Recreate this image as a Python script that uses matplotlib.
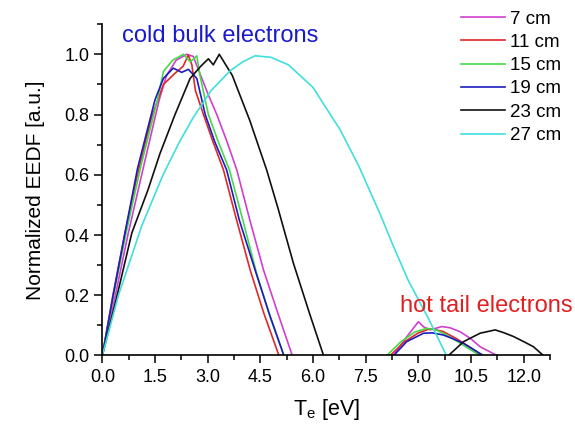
import numpy as np
import matplotlib
matplotlib.use('Agg')
import matplotlib.pyplot as plt
from matplotlib.ticker import MultipleLocator

plt.rcParams['font.family'] = ['Liberation Sans', 'DejaVu Sans']

labels = ['7 cm', '11 cm', '15 cm', '19 cm', '23 cm', '27 cm']
colors = ['#d040d0', '#e02828', '#48d848', '#1c1cc0', '#101010', '#40dede']

# cold bulk part of each EEDF
bulk_x = [
    [0, 0.3, 0.74, 1.2, 1.62, 1.83, 2.1, 2.4, 2.59, 2.8, 3.02, 3.26, 3.55, 3.83, 4.2, 4.59, 5.0, 5.41],
    [0, 0.3, 0.65, 1.0, 1.4, 1.74, 2.07, 2.3, 2.45, 2.55, 2.65, 2.88, 3.15, 3.45, 3.8, 4.21, 4.6, 5.03],
    [0, 0.3, 0.7, 1.1, 1.57, 1.74, 2.0, 2.31, 2.5, 2.6, 2.69, 2.78, 3.02, 3.3, 3.62, 4.0, 4.4, 4.8, 5.17],
    [0, 0.31, 0.65, 1.0, 1.5, 1.74, 2.02, 2.26, 2.45, 2.69, 2.93, 3.2, 3.54, 3.9, 4.35, 4.75, 5.17],
    [0, 0.39, 0.84, 1.3, 1.64, 2.07, 2.5, 2.8, 3.02, 3.16, 3.33, 3.7, 4.2, 4.68, 5.0, 5.44, 5.9, 6.3],
    [0, 0.46, 1.12, 1.73, 2.2, 2.59, 3.1, 3.64, 4.0, 4.35, 4.8, 5.3, 6.0, 6.77, 7.3, 7.91, 8.3, 8.71, 9.3, 9.8],
]
bulk_y = [
    [0, 0.16, 0.407, 0.64, 0.849, 0.93, 0.98, 1.0, 0.993, 0.93, 0.865, 0.80, 0.71, 0.616, 0.45, 0.284, 0.14, 0],
    [0, 0.2, 0.41, 0.6, 0.79, 0.90, 0.937, 0.96, 0.998, 0.965, 0.88, 0.80, 0.71, 0.616, 0.46, 0.284, 0.14, 0],
    [0, 0.19, 0.42, 0.63, 0.849, 0.943, 0.98, 1.0, 0.975, 0.985, 0.995, 0.93, 0.80, 0.71, 0.616, 0.45, 0.27, 0.12, 0],
    [0, 0.2, 0.41, 0.62, 0.849, 0.92, 0.954, 0.94, 0.95, 0.92, 0.80, 0.71, 0.616, 0.45, 0.284, 0.14, 0],
    [0, 0.184, 0.407, 0.55, 0.67, 0.80, 0.92, 0.96, 0.985, 0.965, 1.0, 0.93, 0.78, 0.616, 0.49, 0.307, 0.14, 0],
    [0, 0.2, 0.43, 0.60, 0.71, 0.79, 0.88, 0.945, 0.975, 0.995, 0.99, 0.965, 0.89, 0.75, 0.63, 0.47, 0.36, 0.25, 0.12, 0],
]

# hot tail part (27 cm has none)
tail_x = [
    [8.29, 8.67, 9.0, 9.15, 9.34, 9.67, 9.9, 10.19, 10.5, 10.76, 11.24],
    [8.2, 8.6, 9.0, 9.34, 9.7, 10.1, 10.5, 10.8],
    [8.1, 8.5, 8.9, 9.24, 9.5, 9.81, 10.2, 10.5, 10.76],
    [8.3, 8.67, 9.15, 9.4, 9.71, 10.0, 10.29, 10.6, 10.85],
    [9.86, 10.29, 10.76, 11.0, 11.19, 11.45, 11.71, 12.0, 12.28, 12.56],
    [],
]
tail_y = [
    [0, 0.062, 0.112, 0.095, 0.085, 0.096, 0.092, 0.079, 0.055, 0.029, 0],
    [0, 0.045, 0.075, 0.089, 0.08, 0.055, 0.025, 0],
    [0, 0.045, 0.078, 0.09, 0.085, 0.068, 0.04, 0.018, 0],
    [0, 0.046, 0.074, 0.075, 0.068, 0.055, 0.04, 0.018, 0],
    [0, 0.046, 0.074, 0.08, 0.085, 0.075, 0.063, 0.046, 0.029, 0],
    [],
]

fig = plt.figure(figsize=(5.75, 4.24), dpi=100)
ax = fig.add_axes([0.178, 0.1616, 0.9565 - 0.178, 0.943 - 0.1616])

for i in range(len(labels)):
    ax.plot(bulk_x[i], bulk_y[i], color=colors[i], lw=1.2, label=labels[i])
    if tail_x[i]:
        ax.plot(tail_x[i], tail_y[i], color=colors[i], lw=1.2)

ax.set_xlim(0, 12.75)
ax.set_ylim(0, 1.1)
ax.xaxis.set_major_locator(MultipleLocator(1.5))
ax.xaxis.set_minor_locator(MultipleLocator(0.75))
ax.yaxis.set_major_locator(MultipleLocator(0.2))
ax.yaxis.set_minor_locator(MultipleLocator(0.1))
ax.tick_params(which='major', direction='out', length=6, width=1.1, labelsize=13)
ax.tick_params(which='minor', direction='out', length=3.5, width=1.1)
ax.xaxis.set_major_formatter(plt.FormatStrFormatter('%.1f'))
ax.yaxis.set_major_formatter(plt.FormatStrFormatter('%.1f'))
ax.spines['top'].set_visible(False)
ax.spines['right'].set_visible(False)
ax.spines['left'].set_linewidth(1.2)
ax.spines['bottom'].set_linewidth(1.2)

ax.set_xlabel(r'T$_\mathregular{e}$ [eV]', fontsize=15.5, labelpad=8)
ax.set_ylabel('Normalized EEDF [a.u.]', fontsize=15, labelpad=14)

ax.text(3.36, 1.062, 'cold bulk electrons', color='#1a1acc', fontsize=17,
        ha='center', va='center', clip_on=False)
ax.text(10.93, 0.163, 'hot tail electrons', color='#e02020', fontsize=17,
        ha='center', va='center', clip_on=False)

ax.legend(loc='upper left', bbox_to_anchor=(452 / 575, 1 - 1 / 424),
          bbox_transform=fig.transFigure, frameon=False, fontsize=13.5,
          handlelength=2.3, handletextpad=0.3, labelspacing=0.33, borderpad=0)

plt.savefig('out.png', dpi=100)
